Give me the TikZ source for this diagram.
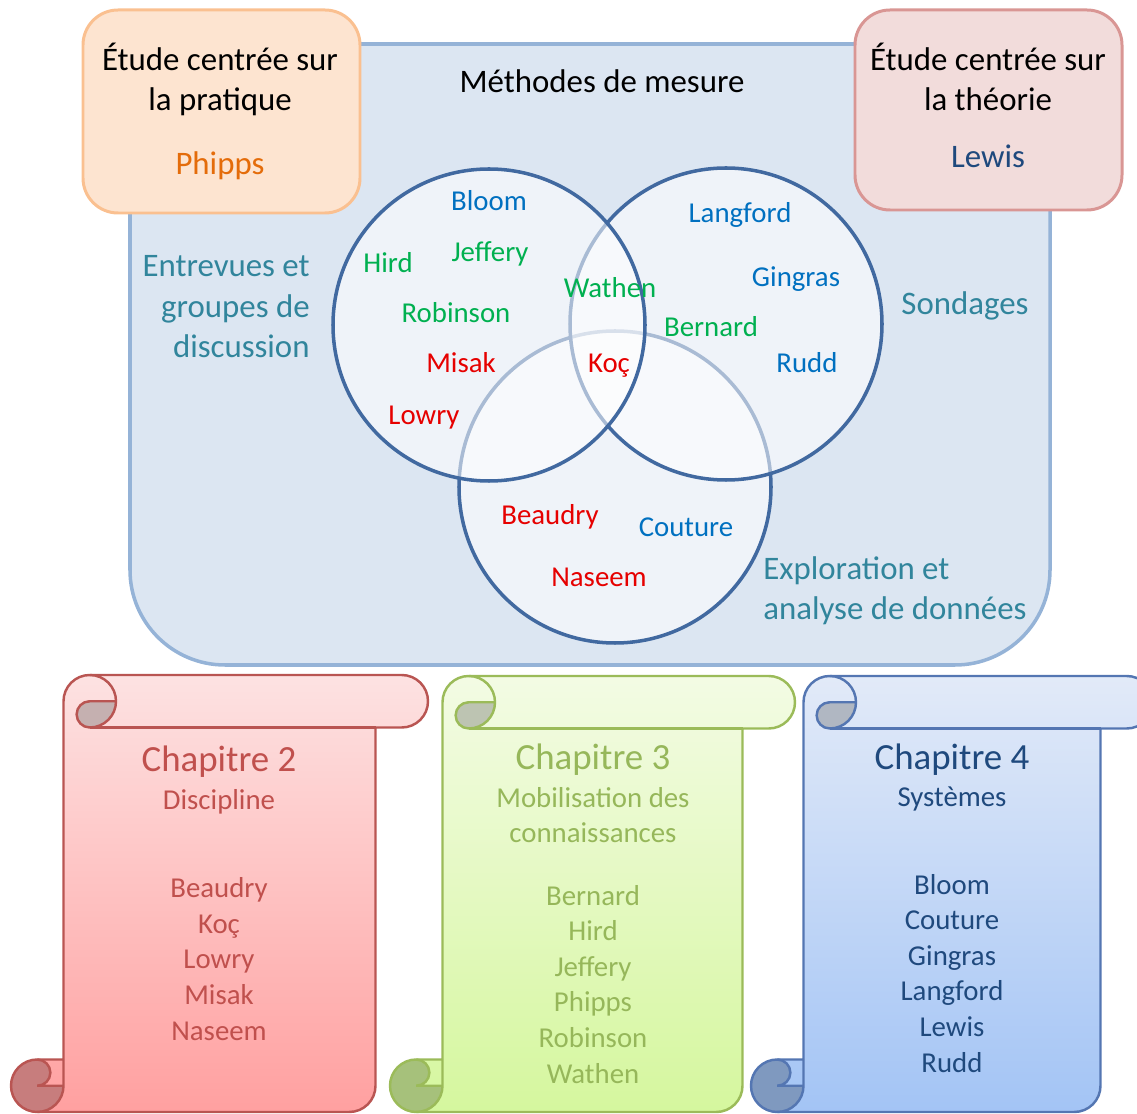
\documentclass[tikz,border=0pt]{standalone}
\usepackage{fontspec}
\setmainfont{Carlito}
\usepackage{tikz}
\usetikzlibrary{shapes}
\usetikzlibrary{calc,backgrounds}
\definecolor{cadrefill}{RGB}{220,230,242}
\definecolor{cadreline}{RGB}{149,179,215}
\definecolor{pratfill}{RGB}{253,228,208}
\definecolor{pratline}{RGB}{250,192,144}
\definecolor{theofill}{RGB}{242,220,219}
\definecolor{theoline}{RGB}{217,150,148}
\definecolor{phipps}{RGB}{228,108,10}
\definecolor{lewis}{RGB}{31,73,125}
\definecolor{vennline}{RGB}{65,105,160}
\definecolor{nbleu}{RGB}{0,112,192}
\definecolor{nvert}{RGB}{0,176,80}
\definecolor{nrouge}{RGB}{230,0,0}
\definecolor{methode}{RGB}{49,133,156}
\definecolor{rtop}{RGB}{253,226,226}
\definecolor{rbot}{RGB}{255,160,160}
\definecolor{rline}{RGB}{185,85,82}
\definecolor{rtxt}{RGB}{192,80,77}
\definecolor{vtop}{RGB}{243,251,228}
\definecolor{vbot}{RGB}{213,247,158}
\definecolor{vline}{RGB}{155,187,89}
\definecolor{vtxt}{RGB}{150,183,90}
\definecolor{btop}{RGB}{226,234,248}
\definecolor{bbot}{RGB}{163,196,245}
\definecolor{bline}{RGB}{84,118,178}
\definecolor{btxt}{RGB}{31,73,125}
\tikzstyle{bigtxt}=[font=\fontsize{18.7}{23.2}\selectfont,align=center,inner sep=0pt,anchor=base]
\tikzstyle{nomtxt}=[font=\fontsize{16.4}{20.25}\selectfont,align=center,inner sep=0pt,anchor=base]
\tikzstyle{chaptxt}=[font=\fontsize{21}{25}\selectfont,inner sep=0pt,anchor=base]
\tikzstyle{venn}=[draw=vennline,line width=2pt,fill=white,fill opacity=0.55]
\tikzstyle{boite}=[line width=1.7pt,rounded corners=0.7cm]
\newcommand{\rol}{52.5}
\newcommand{\rolh}{26.25}
\newcommand{\rolq}{13.125}
% contour du rouleau: l t r b
\newcommand{\rouleaucontour}[4]{({#1+\rol},{#4-\rol}) -- ({#1+\rol},{#2+\rolh}) arc[start angle=180,delta angle=90,radius=\rolh] -- ({#3-\rolh},#2) arc[start angle=270,delta angle=180,radius=\rolh] -- ({#3-\rol},{#2+\rol}) -- ({#3-\rol},{#4-\rolh}) arc[start angle=0,delta angle=90,radius=\rolh] -- ({#1+\rolh},#4) arc[start angle=90,delta angle=180,radius=\rolh] -- cycle}
% rouleau: l t r b haut bas trait
\newcommand{\rouleau}[7]{%
\shade[top color=#5,bottom color=#6] \rouleaucontour{#1}{#2}{#3}{#4};
\fill[#5!78!black] ({#1+2*\rol},{#2+\rolh}) arc[start angle=0,delta angle=90,radius=\rolh] arc[start angle=90,delta angle=180,radius=\rolq] -- cycle;
\fill[#6!78!black] ({#1+\rol},{#4-\rolh}) arc[start angle=0,delta angle=270,radius=\rolh] arc[start angle=270,delta angle=180,radius=\rolq] -- cycle;
\draw[#7,line width=1.4pt,line join=round] \rouleaucontour{#1}{#2}{#3}{#4};
\draw[#7,line width=1.4pt] ({#1+\rol+\rolh},#2) arc[start angle=270,delta angle=180,radius=\rolh] arc[start angle=90,delta angle=180,radius=\rolq] -- ({#1+2*\rol},{#2+\rolh});
\draw[#7,line width=1.4pt] ({#3-\rol},{#2+\rol}) -- ({#1+\rol+\rolh},{#2+\rol});
\draw[#7,line width=1.4pt] ({#1+\rolh},{#4-\rol}) arc[start angle=270,delta angle=180,radius=\rolq] -- ({#1+\rol},{#4-\rolh});
\draw[#7,line width=1.4pt] ({#1+\rolh},#4) arc[start angle=90,delta angle=-90,radius=\rolh] -- ({#1+\rol},{#4-\rol});
}

\begin{document}
\begin{tikzpicture}[x=0.02cm,y=-0.02cm]
\useasboundingbox (0,0) rectangle (1137,1114);
\clip (0,0) rectangle (1137,1114);

% cadre des methodes
\draw[line width=2pt,draw=cadreline,fill=cadrefill,rounded corners=1.9cm] (130,44) rectangle (1050,665);
\draw[boite,draw=pratline,fill=pratfill] (83,10) rectangle (360,213);
\draw[boite,draw=theoline,fill=theofill] (855,10) rectangle (1122,210);

% multi-lignes: base = derniere ligne
\node[bigtxt] (METH) at (602,93) {Méthodes de mesure};
\node[bigtxt] (PRAT) at (220,111) {Étude centrée sur\\la pratique};
\node[bigtxt,text=phipps] (PHIPPS) at (220,175) {Phipps};
\node[bigtxt] (THEO) at (988,111) {Étude centrée sur\\la théorie};
\node[bigtxt,text=lewis] (LEWIS) at (988,168) {Lewis};

% diagramme de Venn
\draw[venn] (615,487) circle[radius=156];
\draw[venn] (726,324) circle[radius=156];
\draw[venn] (489,325) circle[radius=156];

\node[nomtxt,text=nbleu] (BLOOM) at (489,211) {Bloom};
\node[nomtxt,text=nbleu] (LANGFORD) at (740,223) {Langford};
\node[nomtxt,text=nvert] (HIRD) at (388,273) {Hird};
\node[nomtxt,text=nvert] (JEFFERY) at (490,262) {Jeffery};
\node[nomtxt,text=nvert] (WATHEN) at (610,298) {Wathen};
\node[nomtxt,text=nbleu] (GINGRAS) at (796,287) {Gingras};
\node[nomtxt,text=nvert] (ROBINSON) at (456,323) {Robinson};
\node[nomtxt,text=nvert] (BERNARD) at (711,337) {Bernard};
\node[nomtxt,text=nrouge] (MISAK) at (461,373) {Misak};
\node[nomtxt,text=nrouge] (KOC) at (609,373) {Koç};
\node[nomtxt,text=nbleu] (RUDD) at (807,373) {Rudd};
\node[nomtxt,text=nrouge] (LOWRY) at (424,425) {Lowry};
\node[nomtxt,text=nrouge] (BEAUDRY) at (550,525) {Beaudry};
\node[nomtxt,text=nbleu] (COUTURE) at (686,537) {Couture};
\node[nomtxt,text=nrouge] (NASEEM) at (599,587) {Naseem};

\node[bigtxt,text=methode,align=right,anchor=base east] (ENTR) at (310,358) {Entrevues et\\groupes de\\discussion};
\node[bigtxt,text=methode] (SOND) at (965,315) {Sondages};
\node[bigtxt,text=methode,align=left,anchor=base west] (EXPL) at (763,620) {Exploration et\\analyse de données};

% chapitres
\rouleau{11}{675}{428}{1112}{rtop}{rbot}{rline}
\rouleau{390}{676}{795}{1112}{vtop}{vbot}{vline}
\rouleau{751}{676}{1153}{1112}{btop}{bbot}{bline}

\node[chaptxt,text=rtxt] (CH2) at (219,772) {Chapitre 2};
\node[nomtxt,text=rtxt] (DISC) at (219,810) {Discipline};
\node[nomtxt,text=rtxt] (NOMS2) at (219,1040) {Beaudry\\Koç\\Lowry\\Misak\\Naseem};

\node[chaptxt,text=vtxt] (CH3) at (593,770) {Chapitre 3};
\node[nomtxt,text=vtxt] (MOB) at (593,843) {Mobilisation des\\connaissances};
\node[nomtxt,text=vtxt] (NOMS3) at (593,1083) {Bernard\\Hird\\Jeffery\\Phipps\\Robinson\\Wathen};

\node[chaptxt,text=btxt] (CH4) at (952,770) {Chapitre 4};
\node[nomtxt,text=btxt] (SYS) at (952,807) {Systèmes};
\node[nomtxt,text=btxt] (NOMS4) at (952,1072) {Bloom\\Couture\\Gingras\\Langford\\Lewis\\Rudd};

\end{tikzpicture}
\end{document}
